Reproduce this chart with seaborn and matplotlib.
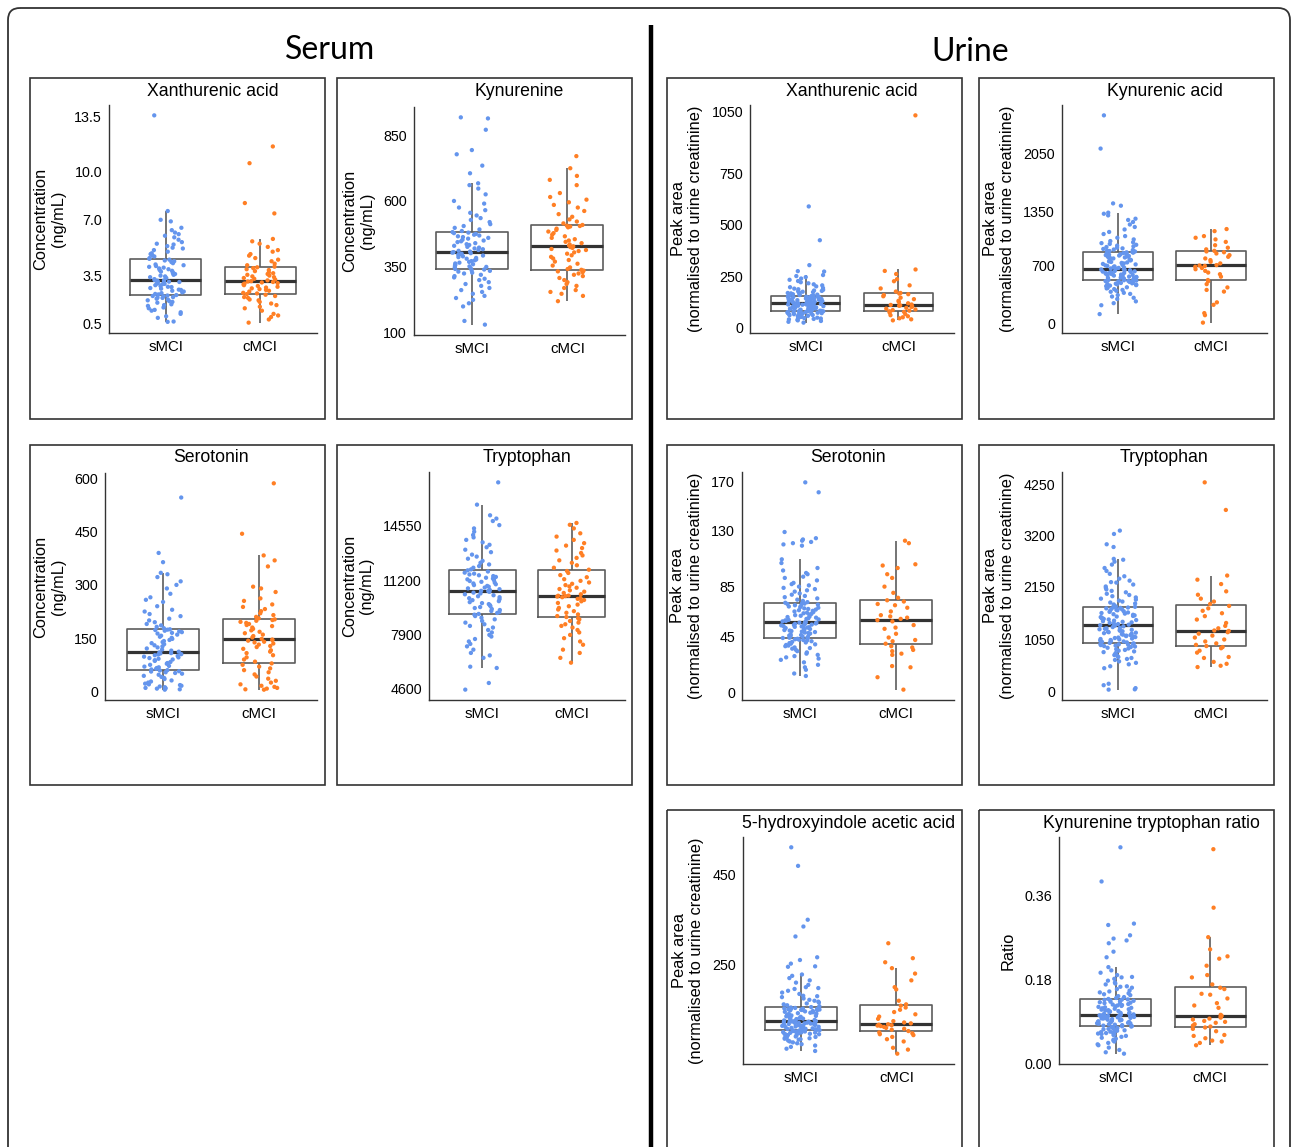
import numpy as np
import pandas as pd
import matplotlib
matplotlib.use("Agg")
import matplotlib.pyplot as plt
from matplotlib.patches import Rectangle, FancyBboxPatch
import seaborn as sns

# --------------------------
# Data
# --------------------------

groups = ["sMCI", "cMCI"]

# Serum - Xanthurenic acid (ng/mL)
serum_xan_smci = [0.6, 0.62, 0.85, 0.95, 1.1, 1.2, 1.3, 1.35, 1.45, 1.5, 1.6, 1.65, 1.7, 1.8, 1.85, 1.9, 1.95, 2.0, 2.05, 2.1, 2.12, 2.15, 2.2, 2.22, 2.25,
                  2.28, 2.32, 2.35, 2.4, 2.45, 2.5, 2.55, 2.6, 2.62, 2.68, 2.72, 2.78, 2.8, 2.85, 2.9, 2.95, 2.98, 3.0, 3.05, 3.08, 3.1, 3.12, 3.15, 3.18, 3.2,
                  3.22, 3.28, 3.35, 3.4, 3.45, 3.5, 3.55, 3.6, 3.65, 3.7, 3.75, 3.8, 3.85, 3.9, 3.95, 4.0, 4.05, 4.1, 4.15, 4.2, 4.28, 4.35, 4.4, 4.45, 4.5,
                  4.55, 4.6, 4.7, 4.75, 4.85, 4.9, 5.0, 5.1, 5.2, 5.25, 5.35, 5.45, 5.5, 5.6, 5.75, 5.9, 6.0, 6.1, 6.2, 6.35, 6.5, 6.9, 7.0, 7.55, 13.55]
serum_xan_cmci = [0.55, 0.75, 0.9, 1.0, 1.1, 1.3, 1.45, 1.55, 1.65, 1.75, 1.85, 1.95, 2.0, 2.1, 2.15, 2.22, 2.3, 2.34,
                  2.38, 2.42, 2.5, 2.55, 2.6, 2.65, 2.7, 2.75, 2.8, 2.85, 2.9, 2.95, 3.0, 3.03, 3.07, 3.1, 3.13,
                  3.15, 3.2, 3.25, 3.3, 3.35, 3.4, 3.45, 3.5, 3.55, 3.6, 3.65, 3.7, 3.78, 3.85, 3.9, 3.97, 4.02,
                  4.06, 4.15, 4.25, 4.4, 4.5, 4.6, 4.75, 4.85, 5.0, 5.1, 5.3, 5.5, 5.65, 5.8, 7.4, 8.05, 10.55, 11.6]

# Serum - Kynurenine (ng/mL)
serum_kyn_smci = [131, 145, 200, 212, 225, 232, 240, 248, 255, 262, 270, 278, 285, 292, 300, 305, 310, 315, 320, 325, 328, 332, 335, 337, 340,
                  342, 345, 348, 350, 352, 355, 358, 360, 363, 366, 369, 372, 375, 378, 381, 384, 387, 390, 393, 396, 398, 400, 402, 404, 406,
                  408, 411, 414, 417, 420, 423, 426, 430, 433, 436, 440, 444, 447, 450, 453, 457, 460, 463, 466, 469, 472, 475, 478, 480, 482,
                  486, 492, 498, 505, 512, 520, 528, 535, 545, 555, 565, 575, 590, 600, 625, 647, 660, 667, 705, 734, 777, 793, 870, 913, 917]
serum_kyn_cmci = [220, 240, 248, 255, 262, 270, 278, 285, 292, 300, 308, 315, 320, 325, 330, 333, 336, 339,
                  342, 348, 355, 362, 370, 376, 382, 388, 394, 400, 405, 410, 414, 418, 422, 425, 428,
                  431, 435, 440, 445, 450, 455, 460, 466, 472, 478, 484, 490, 495, 500, 503, 505, 506,
                  509, 515, 522, 530, 540, 550, 562, 575, 585, 595, 605, 615, 630, 660, 680, 695, 724, 770]

# Serum - Serotonin (ng/mL)
serum_ser_smci = [5, 6, 8, 9, 10, 12, 14, 16, 18, 20, 22, 25, 28, 31, 35, 38, 41, 44, 47, 50, 52, 54, 56, 57, 59,
                  60, 62, 64, 66, 68, 70, 72, 75, 78, 80, 83, 86, 88, 90, 92, 94, 96, 98, 100, 102, 104, 105, 107, 108, 110,
                  112, 115, 118, 121, 124, 127, 130, 133, 136, 139, 142, 145, 148, 151, 154, 157, 160, 163, 165, 167, 169, 171, 173, 174, 175,
                  178, 182, 186, 190, 195, 200, 205, 212, 218, 225, 230, 240, 252, 258, 265, 275, 290, 300, 310, 322, 330, 334, 364, 390, 546]
serum_ser_cmci = [5, 6, 8, 10, 13, 16, 20, 25, 30, 36, 42, 48, 54, 60, 65, 70, 75, 79,
                  84, 90, 96, 102, 108, 112, 116, 120, 125, 128, 132, 135, 138, 140, 143, 145, 146,
                  148, 152, 156, 160, 164, 168, 172, 176, 180, 184, 187, 190, 193, 196, 199, 201, 203,
                  206, 210, 215, 220, 226, 232, 238, 245, 255, 262, 280, 290, 295, 352, 369, 383, 444, 586]

# Serum - Tryptophan (ng/mL)
serum_trp_smci = [4560, 4966, 5882, 5960, 6500, 6650, 6800, 7000, 7200, 7350, 7500, 7650, 7800, 7900, 8050, 8200, 8350, 8450, 8550, 8650, 8750, 8850, 8950, 9050, 9135,
                  9180, 9240, 9300, 9360, 9420, 9480, 9540, 9600, 9660, 9720, 9780, 9840, 9900, 9960, 10020, 10080, 10140, 10200, 10260, 10320, 10380, 10430, 10480, 10530, 10575,
                  10590, 10640, 10690, 10740, 10790, 10840, 10890, 10940, 10990, 11040, 11090, 11140, 11190, 11240, 11290, 11340, 11390, 11440, 11490, 11540, 11590, 11640, 11700, 11770, 11840,
                  11900, 12000, 12100, 12200, 12300, 12420, 12550, 12680, 12800, 12950, 13100, 13250, 13400, 13550, 13700, 13850, 14000, 14200, 14400, 14600, 14850, 15000, 15200, 15850, 17210]
serum_trp_cmci = [6205, 6500, 6800, 7000, 7300, 7500, 7700, 7900, 8050, 8200, 8350, 8450, 8550, 8650, 8750, 8850, 8920, 8990,
                  9050, 9150, 9250, 9350, 9450, 9550, 9650, 9750, 9850, 9950, 10030, 10100, 10150, 10200, 10240, 10270, 10290,
                  10300, 10380, 10460, 10540, 10620, 10700, 10780, 10860, 10940, 11020, 11100, 11200, 11300, 11420, 11550, 11680, 11800,
                  11880, 12000, 12150, 12300, 12450, 12600, 12750, 12900, 13050, 13200, 13350, 13500, 13700, 13900, 14100, 14400, 14620, 14733]

# Urine - Xanthurenic acid (peak area)
urine_xan_smci = [24, 28, 32, 35, 38, 40, 42, 44, 46, 48, 50, 52, 54, 55, 57, 58, 60, 61, 62, 64, 65, 66, 68, 69, 70, 71, 72, 73, 74, 75, 76, 77, 78, 79, 80,
                  81, 82, 83, 84, 85, 87, 88, 89, 90, 92, 93, 94, 95, 97, 98, 99, 100, 102, 103, 104, 105, 106, 108, 109, 110, 111, 112, 113, 114, 115, 116, 117, 118, 118, 119,
                  120, 121, 122, 123, 124, 125, 126, 127, 128, 129, 130, 131, 132, 133, 134, 135, 136, 137, 138, 139, 140, 141, 142, 143, 144, 145, 146, 147, 148, 149, 150, 151, 151, 152, 153,
                  154, 156, 158, 160, 162, 164, 166, 168, 170, 172, 174, 176, 178, 180, 183, 186, 189, 192, 196, 200, 205, 210, 215, 220, 226, 232, 238, 245, 250, 255, 272, 274, 303, 424, 588]
urine_xan_cmci = [35, 40, 45, 50, 55, 60, 66, 72, 76, 79,
                  82, 85, 88, 92, 96, 100, 103, 106, 108, 110,
                  112, 118, 124, 130, 138, 145, 152, 158, 162, 165,
                  168, 175, 190, 205, 225, 235, 260, 275, 282, 1030]

# Urine - Kynurenic acid (peak area)
urine_kna_smci = [108, 215, 240, 262, 290, 305, 320, 338, 352, 365, 378, 390, 400, 410, 418, 425, 432, 440, 446, 452, 458, 463, 468, 472, 476, 480, 484, 488, 492, 496, 500, 504, 507, 510, 513,
                  517, 521, 525, 529, 533, 537, 541, 545, 549, 553, 557, 561, 565, 569, 573, 577, 581, 585, 589, 593, 597, 601, 605, 609, 613, 617, 621, 625, 629, 633, 637, 641, 647, 652, 656,
                  660, 666, 672, 678, 684, 690, 696, 702, 708, 714, 720, 726, 732, 738, 744, 750, 756, 762, 768, 774, 780, 786, 792, 798, 804, 810, 815, 820, 825, 830, 835, 840, 845, 850, 854,
                  858, 864, 870, 876, 882, 888, 895, 902, 910, 918, 926, 935, 945, 955, 965, 975, 990, 1010, 1030, 1050, 1075, 1100, 1130, 1160, 1190, 1220, 1245, 1260, 1300, 1320, 1333, 1417, 1445, 2107, 2508]
urine_kna_cmci = [5, 95, 120, 220, 250, 380, 400, 430, 470, 505,
                  520, 560, 590, 610, 630, 650, 665, 680, 690, 695,
                  700, 720, 740, 760, 780, 800, 820, 840, 855, 865,
                  872, 890, 910, 940, 980, 1010, 1030, 1050, 1110, 1135]

# Urine - Serotonin (peak area)
urine_ser_smci = [13, 15, 18, 20, 22, 24, 26, 27, 28, 29, 30, 31, 32, 33, 34, 35, 35.5, 36, 37, 37.5, 38, 38.5, 39, 39.5, 40, 40.5, 41, 41.5, 42, 42.3, 42.6, 43, 43.3, 43.6, 43.8,
                  44, 44.4, 44.8, 45.2, 45.6, 46, 46.4, 46.8, 47.2, 47.6, 48, 48.4, 48.8, 49.2, 49.6, 50, 50.4, 50.8, 51.2, 51.6, 52, 52.3, 52.6, 52.9, 53.2, 53.5, 53.8, 54.1, 54.4, 54.7, 55, 55.3, 55.6, 55.8, 56,
                  56.2, 56.6, 57, 57.4, 57.8, 58.2, 58.6, 59, 59.5, 60, 60.5, 61, 61.5, 62, 62.5, 63, 63.5, 64, 64.5, 65, 65.5, 66, 66.5, 67, 67.5, 68, 68.5, 69, 69.5, 70, 70.5, 71, 71.3, 71.6, 72,
                  72.5, 73.5, 74.5, 75.5, 76.5, 77.5, 78.5, 79.5, 81, 82, 83, 84, 85, 86, 87, 88, 90, 92, 93, 95, 96, 98, 100, 104, 107, 118, 119, 120, 121, 122, 123, 124, 129, 161, 169]
urine_ser_cmci = [2, 12, 20, 21, 30, 31, 33, 34, 36, 37,
                  39, 41, 42, 44, 47, 51, 52, 54, 57, 58,
                  59, 60, 61, 62, 65, 68, 70, 71, 73, 74,
                  76, 80, 85, 92, 95, 100, 102, 103, 120, 122]

# Urine - Tryptophan (peak area)
urine_trp_smci = [29, 35, 60, 120, 150, 470, 510, 550, 580, 610, 640, 660, 680, 700, 720, 740, 760, 780, 800, 815, 830, 845, 860, 875, 890, 905, 915, 925, 935, 945, 952, 960, 967, 973, 979,
                  990, 1000, 1010, 1020, 1030, 1040, 1050, 1060, 1070, 1080, 1090, 1100, 1110, 1120, 1130, 1140, 1150, 1160, 1170, 1180, 1190, 1200, 1210, 1220, 1230, 1240, 1250, 1260, 1270, 1280, 1290, 1300, 1315, 1330, 1345,
                  1353, 1365, 1377, 1389, 1400, 1412, 1424, 1436, 1448, 1460, 1472, 1484, 1496, 1508, 1520, 1532, 1544, 1556, 1568, 1580, 1592, 1604, 1616, 1628, 1640, 1650, 1660, 1670, 1680, 1690, 1700, 1710, 1718, 1725, 1732,
                  1740, 1760, 1780, 1800, 1820, 1840, 1860, 1880, 1900, 1925, 1950, 1975, 2000, 2030, 2060, 2090, 2120, 2150, 2190, 2230, 2240, 2270, 2310, 2360, 2410, 2470, 2530, 2600, 2660, 2700, 2718, 2962, 3018, 3230, 3299]
urine_trp_cmci = [493, 520, 560, 600, 680, 700, 790, 830, 880, 905,
                  925, 950, 980, 1020, 1060, 1100, 1140, 1180, 1210, 1235,
                  1245, 1290, 1340, 1400, 1470, 1540, 1600, 1650, 1700, 1750,
                  1790, 1840, 1900, 1980, 2050, 2200, 2290, 2375, 3724, 4291]

# Urine - 5-hydroxyindole acetic acid (peak area)
urine_hia_smci = [59, 64, 68, 71, 74, 76, 78, 80, 82, 84, 85, 86, 87, 88, 89, 90, 91, 92, 93, 94, 95, 96, 96.5, 97, 98, 99, 99.5, 100, 100.5, 101, 102, 102.5, 103, 103.5, 104,
                  104.5, 105, 105.5, 106, 107, 107.5, 108, 109, 110, 110.5, 111, 112, 112.5, 113, 114, 114.5, 115, 116, 116.5, 117, 118, 118.5, 119, 119.5, 120, 120.5, 121, 121.5, 122, 122.5, 123, 123.5, 124, 124.5, 125,
                  125.5, 126.5, 127.5, 128.5, 129.5, 130.5, 131.5, 132.5, 133.5, 134.5, 135.5, 136.5, 137.5, 138.5, 139.5, 140.5, 141.5, 142.5, 143.5, 144.5, 145.5, 146.5, 147.5, 148.5, 149, 149.5, 150, 150.5, 151, 151.5, 152, 152.5, 153, 154, 155,
                  156, 158, 160, 162, 164, 166, 168, 170, 172, 175, 178, 180, 181, 185, 188, 192, 196, 198, 200, 205, 210, 215, 220, 225, 228, 245, 246, 252, 260, 266, 312, 334, 349, 468, 509]
urine_hia_cmci = [53, 62, 66, 80, 85, 90, 94, 96, 98, 100,
                  103, 106, 108, 110, 112, 114, 115, 116, 117, 118,
                  120, 122, 125, 130, 135, 140, 145, 150, 155, 159,
                  162, 170, 195, 200, 215, 230, 242, 255, 264, 297]

# Urine - Kynurenine tryptophan ratio
urine_ktr_smci = [0.022, 0.025, 0.03, 0.035, 0.04, 0.042, 0.045, 0.048, 0.05, 0.052, 0.054, 0.056, 0.058, 0.06, 0.062, 0.063, 0.064, 0.065, 0.066, 0.067, 0.068, 0.069, 0.07, 0.071, 0.072, 0.073, 0.074, 0.075, 0.076, 0.077, 0.078, 0.079, 0.08, 0.0805, 0.081,
                  0.082, 0.083, 0.084, 0.085, 0.086, 0.0865, 0.087, 0.088, 0.089, 0.09, 0.0905, 0.091, 0.092, 0.093, 0.094, 0.0945, 0.095, 0.096, 0.097, 0.0975, 0.098, 0.0985, 0.099, 0.0995, 0.1, 0.1005, 0.101, 0.1015, 0.102, 0.1025, 0.103, 0.1033, 0.1036, 0.1038, 0.104,
                  0.105, 0.106, 0.107, 0.108, 0.109, 0.11, 0.111, 0.112, 0.113, 0.114, 0.115, 0.116, 0.117, 0.118, 0.119, 0.12, 0.121, 0.122, 0.123, 0.124, 0.125, 0.126, 0.127, 0.128, 0.129, 0.13, 0.131, 0.132, 0.133, 0.134, 0.135, 0.136, 0.137, 0.1375, 0.138,
                  0.139, 0.141, 0.143, 0.145, 0.147, 0.149, 0.151, 0.153, 0.155, 0.157, 0.16, 0.163, 0.165, 0.166, 0.17, 0.172, 0.174, 0.178, 0.182, 0.185, 0.186, 0.19, 0.195, 0.2, 0.207, 0.228, 0.24, 0.258, 0.264, 0.268, 0.275, 0.297, 0.3, 0.39, 0.463]
urine_ktr_cmci = [0.04, 0.045, 0.048, 0.05, 0.055, 0.06, 0.062, 0.07, 0.075, 0.078,
                  0.08, 0.082, 0.085, 0.088, 0.09, 0.092, 0.095, 0.097, 0.099, 0.101,
                  0.103, 0.105, 0.12, 0.125, 0.13, 0.14, 0.148, 0.15, 0.16, 0.163,
                  0.17, 0.185, 0.19, 0.21, 0.225, 0.23, 0.245, 0.271, 0.334, 0.459]

# tick positions / labels per panel
serum_xan_ticks = [0.5, 3.5, 7.0, 10.0, 13.5]
serum_xan_labels = ["0.5", "3.5", "7.0", "10.0", "13.5"]
serum_kyn_ticks = [100, 350, 600, 850]
serum_ser_ticks = [0, 150, 300, 450, 600]
serum_trp_ticks = [4600, 7900, 11200, 14550]
urine_xan_ticks = [0, 250, 500, 750, 1050]
urine_kna_ticks = [0, 700, 1350, 2050]
urine_ser_ticks = [0, 45, 85, 130, 170]
urine_trp_ticks = [0, 1050, 2150, 3200, 4250]
urine_hia_ticks = [250, 450]
urine_ktr_ticks = [0.0, 0.18, 0.36]
urine_ktr_labels = ["0.00", "0.18", "0.36"]

serum_label = "Concentration\n(ng/mL)"
urine_label = "Peak area\n(normalised to urine creatinine)"

# --------------------------
# Style
# --------------------------

sns.set_theme(style="white")
plt.rcParams["font.family"] = ["Liberation Sans", "DejaVu Sans"]
plt.rcParams["text.color"] = "black"
plt.rcParams["axes.labelcolor"] = "black"
plt.rcParams["xtick.color"] = "black"
plt.rcParams["ytick.color"] = "black"

palette = {"sMCI": "#6495ED", "cMCI": "#FF7F24"}
np.random.seed(3)

W, H = 1292, 1147
fig = plt.figure(figsize=(W / 100, H / 100), dpi=100)

# overlay in pixel coordinates for frames / divider
bg = fig.add_axes([0, 0, 1, 1], zorder=-1)
bg.set_xlim(0, W)
bg.set_ylim(H, 0)
bg.axis("off")

bg.add_patch(FancyBboxPatch((8, 8), 1282, 1160, boxstyle="round,pad=0,rounding_size=12",
                            fill=False, lw=1.3, ec="#333333"))
bg.plot([651, 651], [25, H + 5], color="black", lw=3.2, solid_capstyle="butt")
bg.text(330, 50, "Serum", ha="center", va="center", fontsize=23, family=["Lato", "DejaVu Sans"])
bg.text(970, 52, "Urine", ha="center", va="center", fontsize=23, family=["Lato", "DejaVu Sans"])

# --------------------------
# Panels
# --------------------------

panels = [
    # title, ylabel, sMCI, cMCI, ticks, labels, axes (l, t, r, b), frame (l, t, r, b), title centre x
    ("Xanthurenic acid", serum_label, serum_xan_smci, serum_xan_cmci, serum_xan_ticks, serum_xan_labels,
     (109, 105, 317, 333), (30, 78, 325, 419), None),
    ("Kynurenine", serum_label, serum_kyn_smci, serum_kyn_cmci, serum_kyn_ticks, None,
     (414, 107, 625, 335), (337, 78, 632, 419), None),
    ("Serotonin", serum_label, serum_ser_smci, serum_ser_cmci, serum_ser_ticks, None,
     (105, 473, 317, 700), (30, 445, 325, 785), None),
    ("Tryptophan", serum_label, serum_trp_smci, serum_trp_cmci, serum_trp_ticks, None,
     (429, 472, 625, 700), (337, 445, 632, 785), None),
    ("Xanthurenic acid", urine_label, urine_xan_smci, urine_xan_cmci, urine_xan_ticks, None,
     (750, 105, 954, 333), (667, 78, 962, 419), None),
    ("Kynurenic acid", urine_label, urine_kna_smci, urine_kna_cmci, urine_kna_ticks, None,
     (1062, 105, 1267, 333), (979, 78, 1274, 419), None),
    ("Serotonin", urine_label, urine_ser_smci, urine_ser_cmci, urine_ser_ticks, None,
     (742, 472, 954, 700), (667, 445, 962, 785), None),
    ("Tryptophan", urine_label, urine_trp_smci, urine_trp_cmci, urine_trp_ticks, None,
     (1062, 472, 1267, 700), (979, 445, 1274, 785), None),
    ("5-hydroxyindole acetic acid", urine_label, urine_hia_smci, urine_hia_cmci, urine_hia_ticks, None,
     (743, 837, 954, 1064), (667, 810, 962, 1160), None),
    ("Kynurenine tryptophan ratio", "Ratio", urine_ktr_smci, urine_ktr_cmci, urine_ktr_ticks, urine_ktr_labels,
     (1059, 837, 1267, 1064), (979, 810, 1274, 1160), 1151),
]

for title, ylab, smci, cmci, ticks, labels, abox, fbox, tcx in panels:
    fl, ft, fr, fb = fbox
    bg.add_patch(Rectangle((fl, ft), fr - fl, fb - ft, fill=False, lw=1.2, ec="#333333"))

    l, t, r, b = abox
    ax = fig.add_axes([l / W, 1 - b / H, (r - l) / W, (b - t) / H])

    df = pd.DataFrame({
        "group": ["sMCI"] * len(smci) + ["cMCI"] * len(cmci),
        "value": smci + cmci,
    })

    sns.boxplot(data=df, x="group", y="value", order=groups, width=0.75,
                fill=False, color="#5c5c5c", linewidth=1.2, showfliers=False,
                showcaps=False, medianprops={"color": "#333333", "linewidth": 2.3},
                ax=ax)
    sns.stripplot(data=df, x="group", y="value", order=groups, hue="group",
                  hue_order=groups, palette=palette, jitter=0.2, size=3.1,
                  linewidth=0, legend=False, ax=ax, zorder=3)

    lo, hi = min(smci + cmci), max(smci + cmci)
    pad = 0.05 * (hi - lo)
    ax.set_ylim(lo - pad, hi + pad)
    ax.set_xlim(-0.6, 1.6)
    ax.set_yticks(ticks)
    if labels is not None:
        ax.set_yticklabels(labels)
    ax.set_xlabel("")
    ax.set_ylabel(ylab, fontsize=11.8, labelpad=6, linespacing=1.2)

    sns.despine(ax=ax)
    for side in ["left", "bottom"]:
        ax.spines[side].set_color("#333333")
        ax.spines[side].set_linewidth(1.0)
    ax.tick_params(axis="both", length=3, width=0.8, color="#333333", pad=2)
    ax.tick_params(axis="y", labelsize=10.3)
    ax.tick_params(axis="x", labelsize=10.8)

    cx = tcx if tcx is not None else (l + r) / 2
    fig.text(cx / W, 1 - (ft + 13) / H, title, ha="center", va="center", fontsize=12.7)

fig.savefig("out.png", dpi=100)
